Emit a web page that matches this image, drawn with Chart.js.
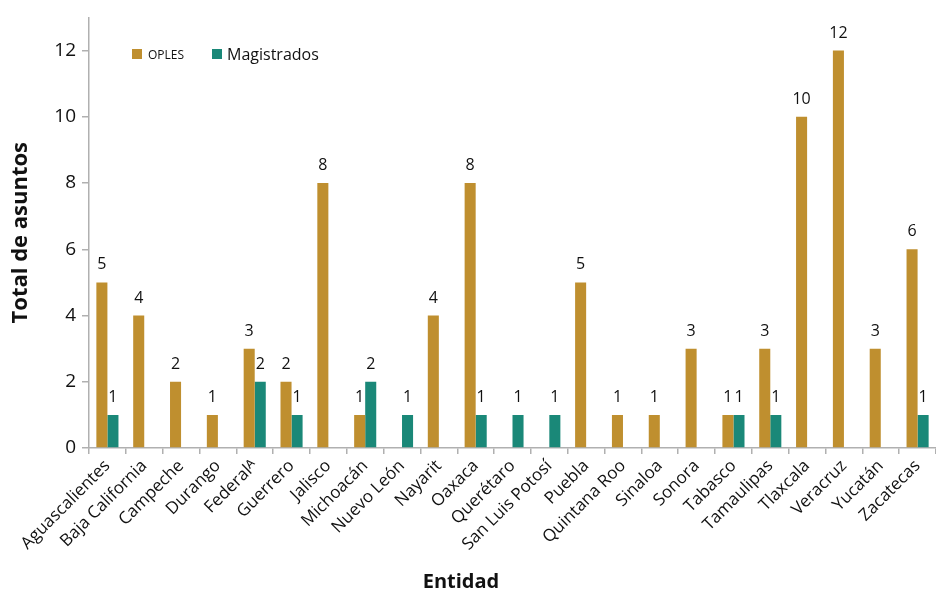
<!DOCTYPE html>
<html>
<head>
<meta charset="utf-8">
<script src="https://cdn.jsdelivr.net/npm/chart.js@4/dist/chart.umd.min.js"></script>
<style>
    html, body { margin: 0; padding: 0; background: #fff; }
    #wrap { width: 936px; height: 593px; }
</style>
</head>
<body>
<div id="wrap"><canvas id="chart"></canvas></div>
<script>
const entidades = [
    "Aguascalientes", "Baja California", "Campeche", "Durango", "Federal\u1D2C",
    "Guerrero", "Jalisco", "Michoacán", "Nuevo León", "Nayarit", "Oaxaca",
    "Querétaro", "San Luis Potosí", "Puebla", "Quintana Roo", "Sinaloa",
    "Sonora", "Tabasco", "Tamaulipas", "Tlaxcala", "Veracruz", "Yucatán", "Zacatecas"
];
const oples = [5, 4, 2, 1, 3, 2, 8, 1, null, 4, 8, null, null, 5, 1, 1, 3, 1, 3, 10, 12, 3, 6];
const magistrados = [1, null, null, null, 2, 1, null, 2, 1, null, 1, 1, 1, null, null, null, null, 1, 1, null, null, null, 1];
const yTicks = [0, 2, 4, 6, 8, 10, 12];

const GOLD = "#BF8F2F";
const TEAL = "#1A8878";
const FONT = "'Open Sans', sans-serif";

// numbers above each bar
const valueLabels = {
    id: "valueLabels",
    afterDatasetsDraw(chart) {
        const ctx = chart.ctx;
        ctx.save();
        ctx.font = "16px " + FONT;
        ctx.fillStyle = "#111";
        ctx.textAlign = "center";
        ctx.textBaseline = "alphabetic";
        chart.data.datasets.forEach((ds, i) => {
            chart.getDatasetMeta(i).data.forEach((bar, j) => {
                if (ds.data[j] == null) return;
                ctx.fillText(String(ds.data[j]), bar.x, bar.y - 13);
            });
        });
        ctx.restore();
    },
};

// legend inside the plot (OPLES smaller, as in the original) and the x title
const extras = {
    id: "extras",
    afterDraw(chart) {
        const ctx = chart.ctx;
        ctx.save();
        ctx.textBaseline = "middle";
        ctx.fillStyle = GOLD;
        ctx.fillRect(132, 49, 10, 10);
        ctx.fillStyle = TEAL;
        ctx.fillRect(212, 49, 10, 10);
        ctx.fillStyle = "#111";
        ctx.font = "12px " + FONT;
        ctx.fillText("OPLES", 148, 56);
        ctx.font = "16px " + FONT;
        ctx.fillText("Magistrados", 227, 55);

        ctx.font = "bold 20px " + FONT;
        ctx.textAlign = "center";
        ctx.fillText("Entidad", 461, 582);
        ctx.restore();
    },
};

new Chart(document.getElementById("chart"), {
    type: "bar",
    data: {
        labels: entidades,
        datasets: [
            { label: "OPLES", data: oples, backgroundColor: GOLD },
            { label: "Magistrados", data: magistrados, backgroundColor: TEAL },
        ],
    },
    options: {
        responsive: true,
        maintainAspectRatio: false,
        animation: false,
        layout: { padding: { top: 16, right: 0, left: 0, bottom: 0 } },
        datasets: { bar: { categoryPercentage: 0.6, barPercentage: 1.0 } },
        plugins: {
            legend: { display: false },
            tooltip: { enabled: false },
        },
        scales: {
            x: {
                grid: { display: true, drawOnChartArea: false, offset: true, color: "#b0b0b0", tickLength: 6, lineWidth: 1.5 },
                border: { color: "#b0b0b0", width: 1.5 },
                ticks: {
                    color: "#111",
                    font: { family: FONT, size: 17 },
                    maxRotation: 45,
                    minRotation: 45,
                    autoSkip: false,
                    padding: 2,
                },
                afterFit(scale) { scale.height = 145; },
            },
            y: {
                min: 0,
                max: 13,
                afterBuildTicks(scale) { scale.ticks = yTicks.map((v) => ({ value: v })); },
                grid: { display: true, drawOnChartArea: false, color: "#b0b0b0", tickLength: 7, lineWidth: 1.5 },
                border: { color: "#b0b0b0", width: 1.5 },
                ticks: {
                    color: "#111",
                    font: { family: FONT, size: 19 },
                    padding: 6,
                },
                title: {
                    display: true,
                    text: "Total de asuntos",
                    color: "#111",
                    font: { family: FONT, size: 22, weight: "bold" },
                    padding: { top: 8, bottom: 0 },
                },
                afterFit(scale) { scale.width = 89; },
            },
        },
    },
    plugins: [valueLabels, extras],
});
</script>
</body>
</html>
